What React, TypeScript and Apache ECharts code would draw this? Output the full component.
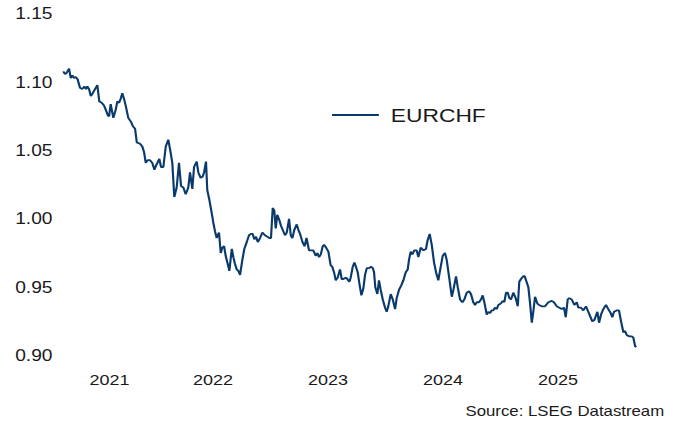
import React, { useEffect, useRef } from "react";
import * as echarts from "echarts";

// Decimal-year dates of the EURCHF readings
const dates: number[] = [
  2021.198, 2021.213, 2021.228, 2021.248, 2021.263, 2021.277, 2021.291, 2021.306, 2021.323, 2021.343,
  2021.363, 2021.381, 2021.396, 2021.407, 2021.422, 2021.437, 2021.454, 2021.474, 2021.494, 2021.511,
  2021.532, 2021.552, 2021.567, 2021.584, 2021.596, 2021.61, 2021.633, 2021.654, 2021.668, 2021.683,
  2021.697, 2021.711, 2021.729, 2021.743, 2021.763, 2021.787, 2021.802, 2021.822, 2021.837, 2021.865,
  2021.885, 2021.9, 2021.915, 2021.932, 2021.952, 2021.972, 2021.99, 2022.004, 2022.016, 2022.033,
  2022.048, 2022.068, 2022.089, 2022.111, 2022.126, 2022.146, 2022.163, 2022.184, 2022.204, 2022.222,
  2022.242, 2022.262, 2022.285, 2022.3, 2022.32, 2022.335, 2022.358, 2022.372, 2022.393, 2022.41,
  2022.422, 2022.439, 2022.45, 2022.468, 2022.489, 2022.503, 2022.517, 2022.532, 2022.541, 2022.552,
  2022.567, 2022.581, 2022.596, 2022.61, 2022.628, 2022.642, 2022.663, 2022.677, 2022.691, 2022.706,
  2022.72, 2022.735, 2022.755, 2022.772, 2022.793, 2022.813, 2022.83, 2022.845, 2022.859, 2022.874,
  2022.889, 2022.909, 2022.929, 2022.952, 2022.972, 2022.99, 2023.004, 2023.019, 2023.033, 2023.045,
  2023.059, 2023.077, 2023.091, 2023.111, 2023.126, 2023.141, 2023.161, 2023.176, 2023.19, 2023.207,
  2023.228, 2023.242, 2023.257, 2023.278, 2023.296, 2023.313, 2023.335, 2023.352, 2023.372, 2023.393,
  2023.407, 2023.422, 2023.437, 2023.454, 2023.465, 2023.483, 2023.503, 2023.523, 2023.537, 2023.555,
  2023.567, 2023.584, 2023.604, 2023.619, 2023.633, 2023.654, 2023.668, 2023.685, 2023.697, 2023.715,
  2023.729, 2023.743, 2023.758, 2023.772, 2023.79, 2023.807, 2023.822, 2023.837, 2023.857, 2023.874,
  2023.889, 2023.9, 2023.911, 2023.929, 2023.943, 2023.958, 2023.976, 2023.996, 2024.01, 2024.024,
  2024.045, 2024.063, 2024.083, 2024.097, 2024.117, 2024.135, 2024.155, 2024.176, 2024.193, 2024.204,
  2024.219, 2024.233, 2024.25, 2024.271, 2024.285, 2024.306, 2024.33, 2024.352, 2024.365, 2024.384,
  2024.402, 2024.422, 2024.439, 2024.459, 2024.48, 2024.497, 2024.517, 2024.532, 2024.552, 2024.576,
  2024.59, 2024.613, 2024.628, 2024.648, 2024.668, 2024.685, 2024.706, 2024.726, 2024.743, 2024.763,
  2024.778, 2024.793, 2024.813, 2024.83, 2024.845, 2024.859, 2024.88, 2024.894, 2024.909, 2024.923,
  2024.937, 2024.952, 2024.967, 2024.981, 2025.002, 2025.019, 2025.033, 2025.048, 2025.063, 2025.077,
  2025.091, 2025.111, 2025.132, 2025.15, 2025.163, 2025.178, 2025.198, 2025.21, 2025.226, 2025.242,
  2025.257, 2025.272, 2025.285, 2025.3, 2025.32, 2025.335, 2025.358, 2025.387, 2025.416, 2025.445,
  2025.465, 2025.489, 2025.511, 2025.532, 2025.552, 2025.567, 2025.584, 2025.598, 2025.619, 2025.642,
  2025.663, 2025.677, 2025.7, 2025.72, 2025.743, 2025.763, 2025.778, 2025.798, 2025.816, 2025.842,
  2025.857, 2025.874, 2025.894, 2025.917, 2025.937, 2025.958, 2025.972, 2025.987, 2026.01, 2026.03,
  2026.048, 2026.068, 2026.083, 2026.097, 2026.12, 2026.141, 2026.155, 2026.17, 2026.178,
];

const eurchf: number[] = [
  1.108, 1.106, 1.107, 1.11, 1.103, 1.105, 1.103, 1.104, 1.102, 1.096,
  1.095, 1.097, 1.095, 1.097, 1.095, 1.09, 1.092, 1.095, 1.098, 1.086,
  1.085, 1.083, 1.08, 1.076, 1.075, 1.084, 1.074, 1.08, 1.086, 1.085,
  1.088, 1.092, 1.087, 1.082, 1.074, 1.071, 1.068, 1.066, 1.056, 1.055,
  1.053, 1.049, 1.041, 1.043, 1.043, 1.041, 1.036, 1.039, 1.041, 1.044,
  1.038, 1.038, 1.053, 1.058, 1.051, 1.041, 1.016, 1.023, 1.041, 1.024,
  1.023, 1.018, 1.023, 1.034, 1.022, 1.038, 1.042, 1.034, 1.03, 1.031,
  1.034, 1.042, 1.021, 1.014, 1.004, 0.997, 0.991, 0.986, 0.988, 0.99,
  0.975, 0.979, 0.98, 0.973, 0.967, 0.962, 0.978, 0.972, 0.967, 0.963,
  0.962, 0.959, 0.97, 0.978, 0.983, 0.988, 0.989, 0.989, 0.985, 0.987,
  0.983, 0.986, 0.99, 0.988, 0.987, 0.986, 0.986, 1.008, 1.006, 0.993,
  1.003, 0.999, 0.995, 0.991, 0.988, 0.99, 1.0, 0.988, 0.986, 0.992,
  0.996, 0.992, 0.989, 0.983, 0.98, 0.986, 0.977, 0.977, 0.977, 0.973,
  0.975, 0.972, 0.974, 0.98, 0.981, 0.979, 0.976, 0.966, 0.965, 0.96,
  0.955, 0.957, 0.963, 0.956, 0.956, 0.957, 0.956, 0.954, 0.957, 0.965,
  0.968, 0.965, 0.961, 0.953, 0.944, 0.949, 0.959, 0.964, 0.964, 0.965,
  0.964, 0.961, 0.95, 0.945, 0.955, 0.948, 0.941, 0.935, 0.932, 0.936,
  0.945, 0.941, 0.934, 0.942, 0.948, 0.951, 0.955, 0.961, 0.963, 0.97,
  0.976, 0.974, 0.977, 0.977, 0.972, 0.979, 0.977, 0.978, 0.984, 0.989,
  0.981, 0.968, 0.961, 0.955, 0.965, 0.973, 0.975, 0.97, 0.958, 0.943,
  0.948, 0.958, 0.95, 0.941, 0.939, 0.941, 0.946, 0.947, 0.945, 0.939,
  0.937, 0.939, 0.939, 0.941, 0.944, 0.939, 0.93, 0.932, 0.931, 0.933,
  0.933, 0.935, 0.934, 0.937, 0.938, 0.94, 0.939, 0.946, 0.946, 0.942,
  0.941, 0.946, 0.942, 0.936, 0.954, 0.956, 0.958, 0.958, 0.954, 0.95,
  0.938, 0.924, 0.932, 0.943, 0.938, 0.937, 0.936, 0.936, 0.939, 0.94,
  0.939, 0.936, 0.935, 0.934, 0.935, 0.928, 0.941, 0.942, 0.941, 0.937,
  0.939, 0.935, 0.935, 0.933, 0.936, 0.932, 0.929, 0.925, 0.926, 0.932,
  0.924, 0.93, 0.934, 0.937, 0.934, 0.931, 0.928, 0.932, 0.933, 0.933,
  0.925, 0.917, 0.918, 0.915, 0.914, 0.914, 0.913, 0.907, 0.906,
];

const yearLabels: string[] = ["2021", "2022", "2023", "2024", "2025"];
const seriesName = "EURCHF";
const sourceText = "Source: LSEG Datastream";

const FONT = "'Liberation Sans', Arial, Helvetica, sans-serif";
const TEXT_COLOR = "#1a1a1a";
const LINE_COLOR = "#0a3a6c";
const STRETCH = 1.2;
const CHART_W = 567;
const CHART_H = 423;

export default function App() {
  const ref = useRef<HTMLDivElement>(null);

  useEffect(() => {
    if (!ref.current) return;
    const chart = echarts.init(ref.current, undefined, { renderer: "svg" });
    const t0 = dates[0];
    const t1 = dates[dates.length - 1];
    const labelPositions = yearLabels.map((y) => {
      const a = Math.max(Number(y), t0);
      const b = Math.min(Number(y) + 1, t1);
      return (a + b) / 2;
    });

    chart.setOption({
      animation: false,
      backgroundColor: "#ffffff",
      textStyle: { fontFamily: FONT },
      grid: { left: 52.75, right: 37, top: 14, bottom: 67.5, containLabel: false },
      legend: {
        show: true,
        left: 276.7,
        top: 105.5,
        padding: 0,
        icon: "rect",
        itemWidth: 39,
        itemHeight: 2,
        textStyle: { fontSize: 19, color: TEXT_COLOR, fontFamily: FONT, padding: [0, 0, 0, 5] },
        data: [seriesName],
      },
      xAxis: {
        type: "value",
        min: t0,
        max: t1,
        axisLine: { show: false },
        axisTick: { show: false },
        splitLine: { show: false },
        axisLabel: {
          customValues: labelPositions,
          formatter: (v: number) => String(Math.floor(v)),
          fontSize: 15,
          color: TEXT_COLOR,
          fontFamily: FONT,
          margin: 17,
        },
      },
      yAxis: {
        type: "value",
        min: 0.9,
        max: 1.15,
        interval: 0.05,
        axisLine: { show: false },
        axisTick: { show: false },
        splitLine: { show: false },
        axisLabel: {
          formatter: (v: number) => v.toFixed(2),
          fontSize: 16,
          color: TEXT_COLOR,
          fontFamily: FONT,
          margin: 9,
        },
      },
      graphic: [
        {
          type: "text",
          x: 553.5,
          y: 411,
          style: {
            text: sourceText,
            fontSize: 14,
            fontFamily: FONT,
            fill: TEXT_COLOR,
            textAlign: "right",
            textVerticalAlign: "middle",
          },
        },
      ],
      series: [
        {
          name: seriesName,
          type: "line",
          data: dates.map((d, i) => [d, eurchf[i]]),
          showSymbol: false,
          symbol: "none",
          lineStyle: { color: LINE_COLOR, width: 1.8 },
          itemStyle: { color: LINE_COLOR },
        },
      ],
    });
    return () => chart.dispose();
  }, []);

  return (
    <div
      style={{
        position: "fixed",
        left: 0,
        top: 0,
        width: 680,
        height: 423,
        overflow: "hidden",
        background: "#ffffff",
      }}
    >
      <div
        ref={ref}
        style={{
          width: CHART_W,
          height: CHART_H,
          transform: `scaleX(${STRETCH})`,
          transformOrigin: "0 0",
        }}
      />
    </div>
  );
}
